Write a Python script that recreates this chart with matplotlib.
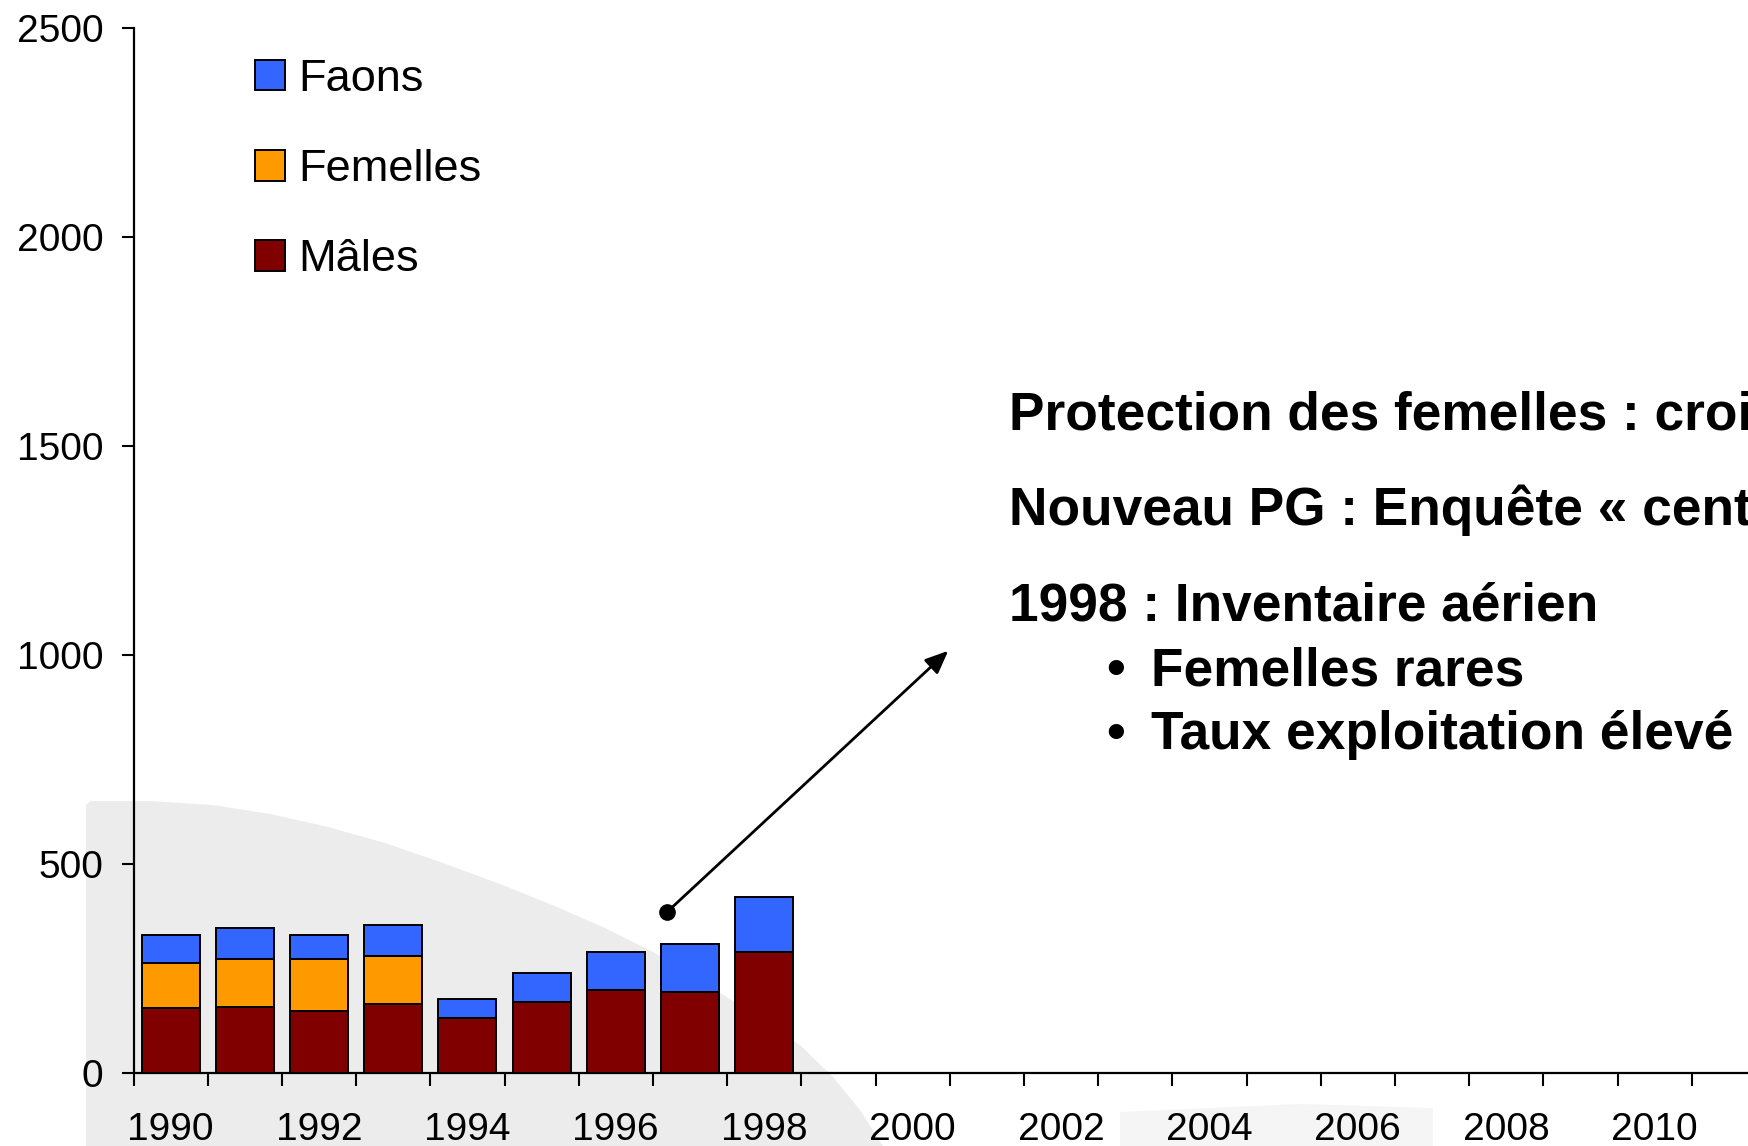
import numpy as np
import matplotlib.pyplot as plt
from matplotlib.patches import Polygon

plt.rcParams['font.family'] = ['Liberation Sans', 'DejaVu Sans']

# données (tableau de chasse)
annees = list(range(1990, 2013))
annees_bar = list(range(1990, 1999))
males = [155, 159, 148, 165, 132, 171, 199, 194, 290]
femelles = [107, 114, 125, 114, 0, 0, 0, 0, 0]
faons = [69, 74, 58, 74, 45, 68, 91, 114, 132]

series = ['Mâles', 'Femelles', 'Faons']
couleurs = ['#800000', '#FF9900', '#3366FF']

lignes = ['Protection des femelles : croissance',
          'Nouveau PG : Enquête « centrale »',
          '1998 : Inventaire aérien']
puces = ['Femelles rares', 'Taux exploitation élevé']

W, H = 1748, 1146


def fx(px):
    return px / W


def fy(py):
    return 1 - py / H


fig = plt.figure(figsize=(W / 100, H / 100), dpi=100)

# fond gris de la diapositive (décor)
fond = [(86, 1146), (86, 805), (90, 801), (150, 801), (213, 805), (270, 814),
        (328, 827), (385, 843), (443, 863), (500, 884), (557, 907),
        (605, 928), (653, 952), (700, 980), (750, 1012), (800, 1045),
        (833, 1077), (860, 1110), (883, 1146)]
fig.patches.append(Polygon([(fx(a), fy(b)) for a, b in fond], closed=True,
                           transform=fig.transFigure, facecolor='#ececec',
                           edgecolor='none', zorder=-5))
fond2 = [(1120, 1146), (1120, 1112), (1300, 1104), (1433, 1108), (1433, 1146)]
fig.patches.append(Polygon([(fx(a), fy(b)) for a, b in fond2], closed=True,
                           transform=fig.transFigure, facecolor='#f5f5f5',
                           edgecolor='none', zorder=-5))

pas = 74.2
ax = fig.add_axes([fx(133.5), fy(1073), len(annees) * pas / W, (1073 - 28) / H])
ax.set_zorder(1)
ax.patch.set_alpha(0)
ax.set_xlim(-0.5, len(annees) - 0.5)
ax.set_ylim(0, 2500)

x = np.arange(len(annees_bar))
bas = np.zeros(len(x))
for nom, val, c in zip(series, [males, femelles, faons], couleurs):
    ax.bar(x, val, 0.78, bottom=bas, color=c, edgecolor='black',
           linewidth=1.4, label=nom, zorder=3)
    bas += np.array(val)

for s in ['top', 'right']:
    ax.spines[s].set_visible(False)
for s in ['left', 'bottom']:
    ax.spines[s].set_linewidth(1.6)

ax.set_yticks(np.arange(0, 2501, 500))
ax.tick_params(axis='y', direction='out', length=8.6, width=1.5,
               labelsize=28, pad=13)
ax.set_xticks(np.arange(len(annees) + 1) - 0.5)
ax.set_xticklabels([])
ax.set_xticks(np.arange(0, len(annees), 2), minor=True)
ax.set_xticklabels([str(a) for a in annees[::2]], minor=True)
ax.tick_params(axis='x', which='major', direction='out', length=9, width=1.5)
ax.tick_params(axis='x', which='minor', length=0, labelsize=28, pad=28)

h, l = ax.get_legend_handles_labels()
ax.legend(h[::-1], l[::-1], loc='upper left',
          bbox_to_anchor=(fx(255), fy(59)), bbox_transform=fig.transFigure,
          frameon=False, fontsize=32.5, handlelength=0.667,
          handleheight=0.667, handletextpad=0.3, labelspacing=1.09,
          borderpad=0, borderaxespad=0)

# flèche vers les commentaires
ax.plot([6.69], [385], 'o', color='black', markersize=11, zorder=4)
ax.annotate('', xy=(10.48, 1010), xytext=(6.69, 385),
            arrowprops=dict(arrowstyle='-|>,head_length=0.7,head_width=0.3',
                            color='black', lw=2, mutation_scale=20,
                            shrinkA=0, shrinkB=0))

for t, yb in zip(lignes, [430, 525, 620]):
    fig.text(fx(1009), fy(yb), t, fontsize=38.3, fontweight='bold',
             va='baseline', ha='left')
for t, yb in zip(puces, [685, 749]):
    fig.text(fx(1106), fy(yb), '•', fontsize=38.3, fontweight='bold',
             va='baseline', ha='left')
    fig.text(fx(1151), fy(yb), t, fontsize=38.3, fontweight='bold',
             va='baseline', ha='left')

fig.savefig('out.png', dpi=100)
